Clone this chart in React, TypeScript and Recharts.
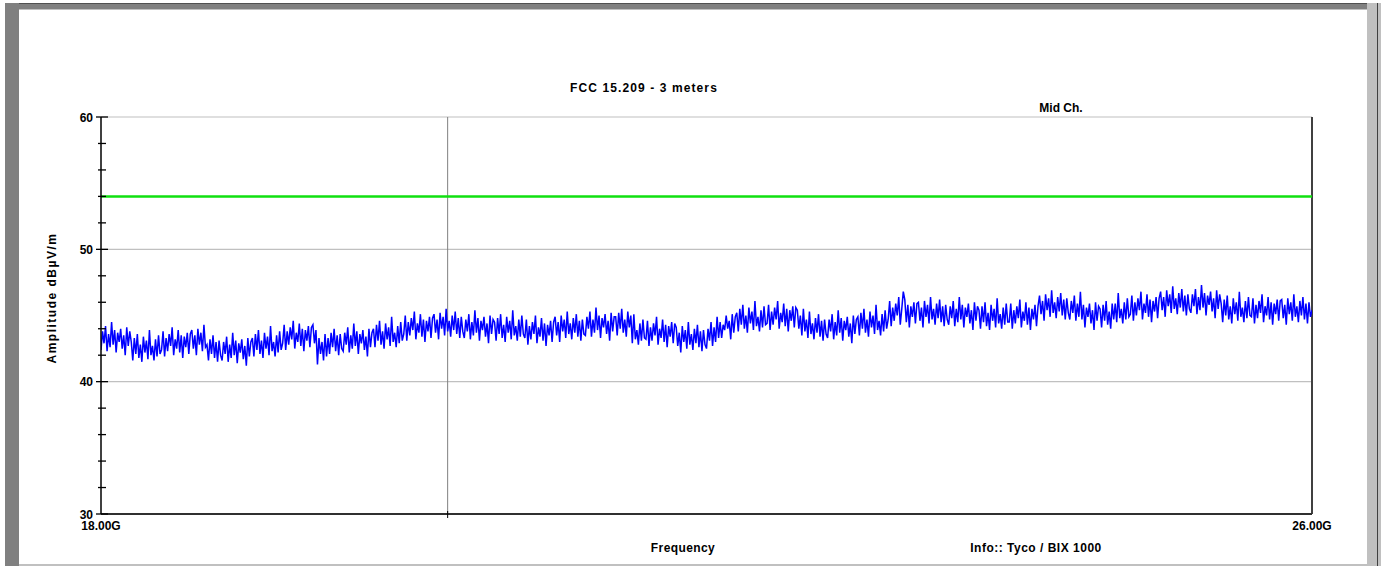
import React from 'react';
import { LineChart, Line, XAxis, YAxis, ReferenceLine } from 'recharts';

// Sweep: 18.00 GHz to 26.00 GHz, 0.01 GHz per point
const FREQ_START = 18;
const FREQ_STEP = 0.01;

const amplitude: number[] = [
  42.4, 43.8, 42.9, 44.2, 42.3, 43.6, 42.6, 44.5, 42.8, 43.9, 42.2, 43.7, 43.0, 44.0, 42.5, 43.5, 42.0, 44.1, 42.7, 43.8,
  43.0, 41.6, 43.3, 42.1, 43.6, 41.8, 42.8, 41.5, 43.4, 42.2, 43.1, 41.7, 43.9, 42.0, 42.7, 41.6, 43.2, 41.9, 43.5, 42.1,
  42.4, 43.8, 41.9, 43.3, 42.3, 43.6, 42.7, 44.1, 42.0, 43.2, 42.5, 43.9, 42.2, 43.5, 41.8, 43.4, 42.6, 43.7, 42.1, 43.6,
  43.9, 42.5, 43.5, 42.0, 44.0, 42.8, 43.7, 42.3, 44.3, 42.6, 42.8, 41.6, 43.2, 42.1, 43.5, 41.8, 43.0, 41.5, 43.1, 42.0,
  41.6, 43.0, 42.1, 43.4, 41.5, 42.8, 41.8, 43.7, 42.0, 43.1, 41.4, 42.9, 42.2, 43.2, 41.7, 42.7, 41.2, 43.3, 41.9, 43.0,
  43.3, 41.9, 43.6, 42.4, 43.9, 42.1, 43.1, 41.8, 43.7, 42.5, 43.4, 42.0, 44.2, 42.3, 43.0, 41.9, 43.5, 42.2, 43.8, 42.4,
  42.9, 44.3, 42.4, 43.8, 42.8, 44.1, 43.2, 44.6, 42.5, 43.7, 43.0, 44.4, 42.7, 44.0, 42.3, 43.9, 43.1, 44.2, 42.6, 44.1,
  44.3, 42.9, 43.9, 41.3, 43.3, 42.1, 43.0, 41.6, 43.6, 41.9, 43.3, 42.1, 43.7, 42.6, 44.0, 42.3, 43.5, 42.0, 43.6, 42.5,
  42.3, 43.7, 42.8, 44.1, 42.2, 43.5, 42.5, 44.4, 42.7, 43.8, 42.1, 43.6, 42.9, 43.9, 42.4, 43.4, 41.9, 44.0, 42.6, 43.7,
  44.0, 42.6, 44.3, 43.1, 44.6, 42.8, 43.8, 42.5, 44.4, 43.2, 44.1, 42.7, 44.9, 43.0, 43.7, 42.6, 44.2, 42.9, 44.5, 43.1,
  43.6, 45.0, 43.1, 44.5, 43.5, 44.8, 43.9, 45.3, 43.2, 44.4, 43.7, 45.1, 43.4, 44.7, 43.0, 44.6, 43.8, 44.9, 43.3, 44.8,
  45.1, 43.7, 44.7, 43.2, 45.2, 44.0, 44.9, 43.5, 45.5, 43.8, 44.6, 43.4, 45.0, 43.9, 45.3, 43.6, 44.8, 43.3, 44.9, 43.8,
  43.3, 44.7, 43.8, 45.1, 43.2, 44.5, 43.5, 45.4, 43.7, 44.8, 43.1, 44.6, 43.9, 44.9, 43.4, 44.4, 42.9, 45.0, 43.6, 44.7,
  44.5, 43.1, 44.8, 43.6, 45.1, 43.3, 44.3, 43.0, 44.9, 43.7, 44.6, 43.2, 45.4, 43.5, 44.2, 43.1, 44.7, 43.4, 45.0, 43.6,
  43.3, 44.7, 42.8, 44.2, 43.2, 44.5, 43.6, 45.0, 42.9, 44.1, 43.4, 44.8, 43.1, 44.4, 42.7, 44.3, 43.5, 44.6, 43.0, 44.5,
  44.9, 43.5, 44.5, 43.0, 45.0, 43.8, 44.7, 43.3, 45.3, 43.6, 44.4, 43.2, 44.8, 43.7, 45.1, 43.4, 44.6, 43.1, 44.7, 43.6,
  43.5, 44.9, 44.0, 45.3, 43.4, 44.7, 43.7, 45.6, 43.9, 45.0, 43.3, 44.8, 44.1, 45.1, 43.6, 44.6, 43.1, 45.2, 43.8, 44.9,
  44.9, 43.5, 45.2, 44.0, 45.5, 43.7, 44.7, 43.4, 45.3, 44.1, 45.0, 42.9, 45.1, 43.2, 43.9, 42.8, 44.4, 43.1, 44.7, 43.3,
  43.2, 44.6, 42.7, 44.1, 43.1, 44.4, 43.5, 44.9, 42.8, 44.0, 43.3, 44.7, 43.0, 44.3, 42.6, 44.2, 43.4, 44.5, 42.9, 44.4,
  44.1, 42.7, 43.7, 42.2, 44.2, 43.0, 43.9, 42.5, 44.5, 42.8, 43.6, 42.4, 44.0, 42.9, 44.3, 42.6, 43.8, 42.3, 43.9, 42.8,
  42.5, 44.0, 43.1, 44.5, 42.7, 44.1, 43.0, 44.9, 43.3, 44.5, 43.3, 44.3, 43.9, 45.0, 44.0, 44.6, 43.2, 45.1, 43.7, 44.9,
  45.2, 43.8, 45.5, 44.3, 45.8, 44.0, 45.0, 43.7, 45.6, 44.4, 45.3, 43.9, 46.1, 44.2, 44.9, 43.8, 45.4, 44.1, 45.7, 44.3,
  44.4, 45.8, 43.9, 45.3, 44.3, 45.6, 44.7, 46.1, 44.0, 45.2, 44.5, 45.9, 44.2, 45.5, 43.8, 45.4, 44.6, 45.7, 44.1, 45.6,
  45.4, 44.0, 45.0, 43.5, 45.5, 43.8, 44.7, 43.3, 45.3, 43.6, 44.4, 43.2, 44.8, 43.7, 45.1, 43.4, 44.6, 43.1, 44.7, 43.6,
  43.3, 44.7, 43.8, 45.1, 43.2, 44.5, 43.5, 45.4, 43.7, 44.8, 43.1, 44.6, 43.9, 44.9, 43.4, 44.4, 42.9, 45.0, 43.6, 44.7,
  44.9, 43.5, 45.2, 44.0, 45.5, 43.7, 44.7, 43.4, 45.3, 44.1, 45.0, 43.6, 45.8, 43.9, 44.6, 43.5, 45.1, 43.8, 45.4, 44.0,
  44.7, 46.1, 44.2, 45.6, 44.6, 45.9, 45.0, 46.4, 44.3, 45.5, 46.8, 46.2, 44.5, 45.8, 44.1, 45.7, 44.9, 46.0, 44.4, 45.9,
  46.0, 44.6, 45.6, 44.1, 46.1, 44.9, 45.8, 44.4, 46.4, 44.7, 45.5, 44.3, 45.9, 44.8, 46.2, 44.5, 45.7, 44.2, 45.8, 44.7,
  44.3, 45.7, 44.8, 46.1, 44.2, 45.5, 44.5, 46.4, 44.7, 45.8, 44.1, 45.6, 44.9, 45.9, 44.4, 45.4, 43.9, 46.0, 44.6, 45.7,
  45.4, 44.0, 45.7, 44.5, 46.0, 44.2, 45.2, 43.9, 45.8, 44.6, 45.5, 44.1, 46.3, 44.4, 45.1, 44.0, 45.6, 44.3, 45.9, 44.5,
  44.5, 45.9, 44.0, 45.4, 44.4, 45.7, 44.8, 46.2, 44.1, 45.3, 44.6, 46.0, 44.3, 45.6, 43.9, 45.5, 44.7, 45.8, 44.2, 45.7,
  46.5, 45.1, 46.1, 44.6, 46.6, 45.4, 46.3, 44.9, 46.9, 45.2, 46.0, 44.8, 46.4, 45.3, 46.7, 45.0, 46.2, 44.7, 46.3, 45.2,
  44.7, 46.1, 45.2, 46.5, 44.6, 45.9, 44.9, 46.8, 44.7, 45.8, 44.1, 45.6, 44.9, 45.9, 44.4, 45.4, 43.9, 46.0, 44.6, 45.7,
  45.5, 44.1, 45.8, 44.6, 46.1, 44.3, 45.3, 44.0, 45.9, 44.7, 45.9, 44.5, 46.7, 44.8, 45.5, 44.4, 46.0, 44.7, 46.3, 44.9,
  45.1, 46.5, 44.6, 46.0, 45.0, 46.3, 45.4, 46.8, 44.7, 45.9, 45.2, 46.6, 44.9, 46.2, 44.5, 46.1, 45.3, 46.4, 44.8, 46.3,
  46.8, 45.4, 46.4, 44.9, 46.9, 45.7, 46.6, 45.2, 47.2, 45.5, 46.3, 45.1, 46.7, 45.6, 47.0, 45.3, 46.5, 45.0, 46.6, 45.5,
  45.2, 46.6, 45.7, 47.0, 45.1, 46.4, 45.4, 47.3, 45.6, 46.7, 45.0, 46.5, 45.8, 46.8, 45.3, 46.3, 44.8, 46.9, 45.5, 46.6,
  45.9, 44.5, 46.2, 45.0, 46.5, 44.7, 45.7, 44.4, 46.3, 45.1, 46.0, 44.6, 46.8, 44.9, 45.6, 44.5, 46.1, 44.8, 46.4, 45.0,
  44.9, 46.3, 44.4, 45.8, 44.8, 46.1, 45.2, 46.6, 44.5, 45.7, 45.0, 46.4, 44.7, 46.0, 44.3, 45.9, 45.1, 46.2, 44.6, 46.1,
  46.2, 44.8, 45.8, 44.3, 46.3, 45.1, 46.0, 44.6, 46.6, 44.9, 45.7, 44.5, 46.1, 45.0, 46.4, 44.7, 45.9, 44.4, 46.0, 44.9,
  45.4,
];

const LIMIT = 54; // FCC 15.209 limit line
const MARKER_FREQ = 20.29;
const Y_DOMAIN: [number, number] = [30, 60];
const X_DOMAIN: [number, number] = [18, 26];
const Y_TICKS = [30, 32, 34, 36, 38, 40, 42, 44, 46, 48, 50, 52, 54, 56, 58, 60];
const Y_GRID = [40, 50, 60];
const X_TICKS = [18, 20.29, 26];
const X_TICK_LABELS: Record<string, string> = { '18': '18.00G', '26': '26.00G' };

const TITLE = 'FCC 15.209 - 3 meters';
const SUBTITLE = 'Mid Ch.';
const Y_LABEL = 'Amplitude dBµV/m';
const X_LABEL = 'Frequency';
const INFO = 'Info:: Tyco / BIX 1000';

const data = amplitude.map((a, i) => ({ freq: FREQ_START + i * FREQ_STEP, amp: a }));

const FONT = '"Liberation Sans", Arial, sans-serif';

const YTick = (props: any) => {
  const { x, y, payload } = props;
  const v = payload.value;
  const major = v % 10 === 0;
  return (
    <g>
      <line x1={x - (major ? 5 : 3)} x2={x + (major ? 7 : 5)} y1={y} y2={y} stroke="#000" strokeWidth={1.3} />
      {major && (
        <text x={x - 8} y={y} dy={4.5} textAnchor="end" fontFamily={FONT} fontWeight="bold" fontSize={12} fill="#000">
          {v}
        </text>
      )}
    </g>
  );
};

const XTick = (props: any) => {
  const { x, y, payload } = props;
  const label = X_TICK_LABELS[String(payload.value)];
  if (!label) {
    return <line x1={x} x2={x} y1={y - 3} y2={y + 4} stroke="#000" strokeWidth={1} />;
  }
  return (
    <text x={x} y={y} dy={16} textAnchor="middle" fontFamily={FONT} fontWeight="bold" fontSize={12} fill="#000">
      {label}
    </text>
  );
};

const textStyle: React.CSSProperties = {
  position: 'absolute',
  fontFamily: FONT,
  fontWeight: 'bold',
  fontSize: 12,
  color: '#000',
  whiteSpace: 'nowrap',
  lineHeight: '14px',
};

export default function App() {
  return (
    <div style={{ position: 'absolute', left: 0, top: 0, width: 1381, height: 566, background: '#fff', overflow: 'hidden' }}>
      {/* window frame */}
      <div style={{ position: 'absolute', left: 5, top: 3, width: 1362, height: 1, background: '#505050' }} />
      <div style={{ position: 'absolute', left: 5, top: 4, width: 1362, height: 5, background: '#808080' }} />
      <div style={{ position: 'absolute', left: 19, top: 9, width: 1348, height: 1, background: '#c0c0c0' }} />
      <div style={{ position: 'absolute', left: 5, top: 3, width: 14, height: 563, background: '#808080' }} />
      <div style={{ position: 'absolute', left: 1367, top: 3, width: 14, height: 563, background: '#c0c0c0' }} />
      <div style={{ position: 'absolute', left: 1377, top: 3, width: 1, height: 563, background: '#404040' }} />
      <div style={{ position: 'absolute', left: 19, top: 564, width: 1348, height: 2, background: '#c0c0c0' }} />

      <div style={{ position: 'absolute', left: 0, top: 0 }}>
        <LineChart width={1381} height={566} data={data} margin={{ top: 117, right: 69, bottom: 22, left: 41 }}>
          {Y_GRID.map((g) => (
            <ReferenceLine key={g} y={g} stroke="#c0c0c0" strokeWidth={1.2} ifOverflow="extendDomain" />
          ))}
          <ReferenceLine x={MARKER_FREQ} stroke="#808080" strokeWidth={1} />
          <ReferenceLine x={X_DOMAIN[1]} stroke="#404040" strokeWidth={2} />
          <XAxis
            dataKey="freq"
            type="number"
            domain={X_DOMAIN}
            ticks={X_TICKS}
            interval={0}
            height={30}
            tickSize={0}
            tickMargin={0}
            tickLine={false}
            tick={<XTick />}
            axisLine={{ stroke: '#303030', strokeWidth: 2 }}
            allowDataOverflow
          />
          <YAxis
            type="number"
            domain={Y_DOMAIN}
            ticks={Y_TICKS}
            interval={0}
            width={60}
            tickSize={0}
            tickMargin={0}
            tickLine={false}
            tick={<YTick />}
            axisLine={{ stroke: '#000', strokeWidth: 1.5 }}
            allowDataOverflow
          />
          <ReferenceLine y={LIMIT} stroke="#10e010" strokeWidth={2.5} />
          <Line
            type="linear"
            dataKey="amp"
            stroke="#0000ff"
            strokeWidth={1.5}
            dot={false}
            isAnimationActive={false}
          />
        </LineChart>
      </div>

      <div style={{ ...textStyle, left: 644, top: 81, transform: 'translateX(-50%)', letterSpacing: 1.1 }}>{TITLE}</div>
      <div style={{ ...textStyle, left: 1061, top: 101, transform: 'translateX(-50%)' }}>{SUBTITLE}</div>
      <div
        style={{
          ...textStyle,
          left: 52,
          top: 298,
          transform: 'translate(-50%, -50%) rotate(-90deg)',
          letterSpacing: 1.5,
        }}
      >
        {Y_LABEL}
      </div>
      <div style={{ ...textStyle, left: 683, top: 541, transform: 'translateX(-50%)', letterSpacing: 0.4 }}>{X_LABEL}</div>
      <div style={{ ...textStyle, left: 1036, top: 541, transform: 'translateX(-50%)', letterSpacing: 0.5 }}>{INFO}</div>
    </div>
  );
}
